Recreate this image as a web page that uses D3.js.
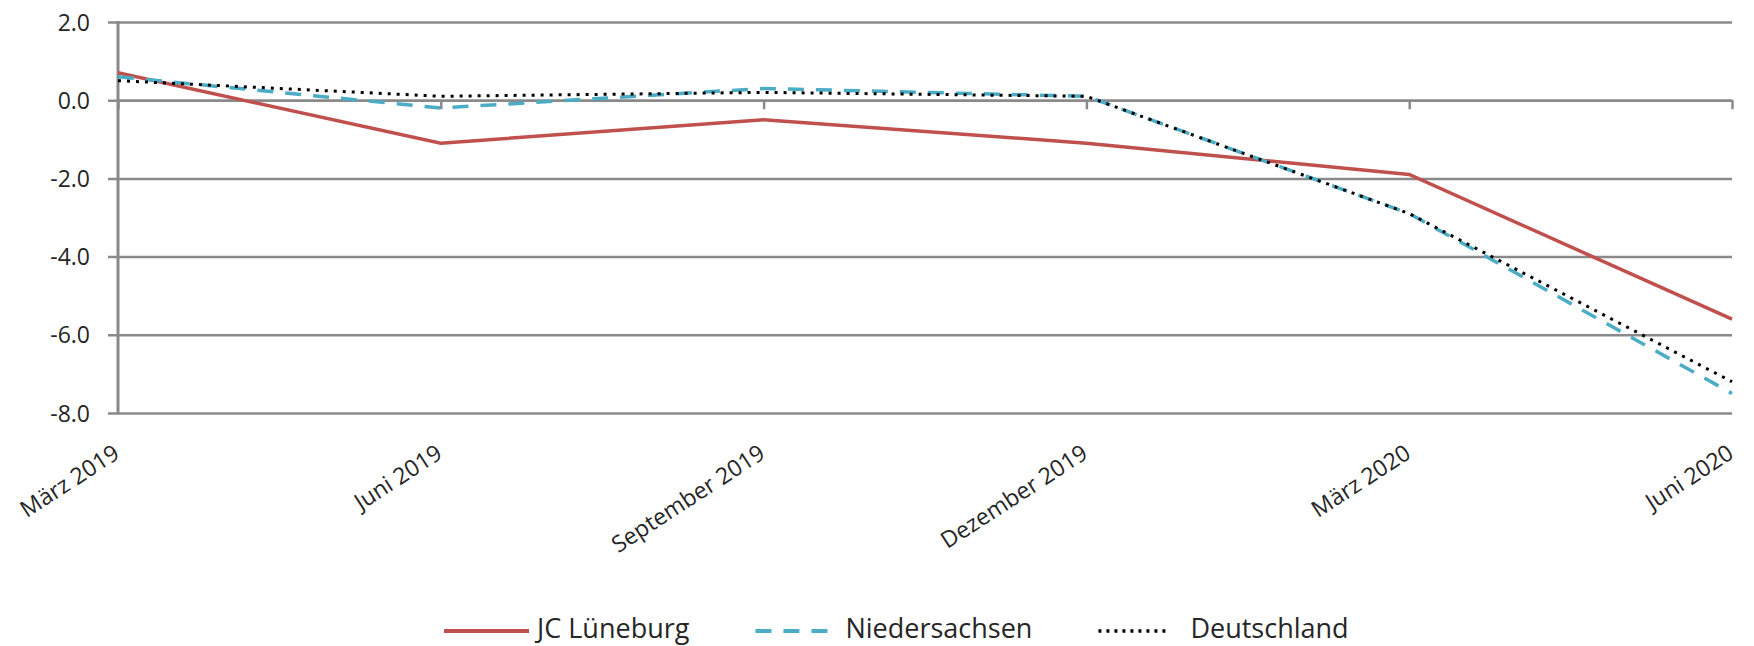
<!DOCTYPE html>
<html>
<head>
<meta charset="utf-8">
<script src="https://cdn.jsdelivr.net/npm/d3@7"></script>
<style>
  body { margin: 0; background: #fff; }
  text { font-family: "Open Sans", sans-serif; fill: #262626; }
</style>
</head>
<body>
<div id="chart"></div>
<script>
var w = 1754;
var h = 646;

// quarters on the x axis
var months = ["März 2019", "Juni 2019", "September 2019", "Dezember 2019", "März 2020", "Juni 2020"];
// change in percent
var lueneburg = [0.7, -1.1, -0.5, -1.1, -1.9, -5.6];
var niedersachsen = [0.6, -0.2, 0.3, 0.1, -2.9, -7.5];
var deutschland = [0.5, 0.1, 0.2, 0.1, -2.9, -7.2];
var yTicks = [-8, -6, -4, -2, 0, 2];
var seriesNames = ["JC Lüneburg", "Niedersachsen", "Deutschland"];

// plot area (note: "top" is reserved on window, so use own names)
var plotLeft = 118, plotRight = 1732, plotTop = 22, plotBottom = 413;
var gridColor = "#8a8a8a";

var svg = d3.select("#chart")
  .append("svg")
  .attr("width", w)
  .attr("height", h);

var x = d3.scalePoint()
  .domain(months)
  .range([plotLeft, plotRight]);

var y = d3.scaleLinear()
  .domain([-8, 2])
  .range([plotBottom, plotTop]);

// horizontal gridlines (incl. the small ticks left of the axis)
var grid = svg.append("g")
  .attr("transform", "translate(" + (plotLeft - 10) + ",0)")
  .call(d3.axisLeft(y).tickValues(yTicks).tickSize(-(plotRight - plotLeft + 10)).tickFormat(""));
grid.select(".domain").remove();
grid.selectAll("line").attr("stroke", gridColor).attr("stroke-width", 2.5);

// y labels
var yLab = svg.append("g")
  .attr("transform", "translate(" + (plotLeft - 28) + ",0)")
  .call(d3.axisLeft(y).tickValues(yTicks).tickSize(0).tickPadding(0)
    .tickFormat(function(d) { return d.toFixed(1); }));
yLab.select(".domain").remove();
yLab.selectAll("text")
  .style("font-size", "23px")
  .style("font-family", "'Open Sans', sans-serif")
  .attr("fill", "#262626")
  .attr("dy", "0.35em");

// x axis sits on the 0 line, ticks point down
var xAx = svg.append("g")
  .attr("transform", "translate(0," + y(0) + ")")
  .call(d3.axisBottom(x).tickSize(9).tickSizeOuter(0).tickFormat(""));
xAx.select(".domain").attr("stroke", gridColor).attr("stroke-width", 2.5);
xAx.selectAll("line").attr("stroke", gridColor).attr("stroke-width", 2.5);

// vertical axis line
svg.append("line")
  .attr("x1", plotLeft).attr("x2", plotLeft)
  .attr("y1", y(2) - 1).attr("y2", y(-8) + 1)
  .attr("stroke", gridColor)
  .attr("stroke-width", 3);

// rotated category labels at the bottom
svg.selectAll(".x-label")
  .data(months)
  .enter()
  .append("text")
  .attr("class", "x-label")
  .attr("text-anchor", "end")
  .attr("transform", function(d) {
    return "translate(" + (x(d) + 3) + "," + 457 + ") rotate(-33)";
  })
  .style("font-size", "23px")
  .text(function(d) { return d; });

var styles = [
  { color: "#c0504d", dash: null, width: 3.5 },
  { color: "#4bacc6", dash: "16,12", width: 3.5 },
  { color: "#000000", dash: "3,6", width: 3 }
];
var allSeries = [lueneburg, niedersachsen, deutschland];

var line = d3.line()
  .x(function(d, i) { return x(months[i]); })
  .y(function(d) { return y(d); });

allSeries.forEach(function(vals, i) {
  svg.append("path")
    .datum(vals)
    .attr("d", line)
    .attr("fill", "none")
    .attr("stroke", styles[i].color)
    .attr("stroke-width", styles[i].width)
    .attr("stroke-dasharray", styles[i].dash);
});

// legend
var lx = 444;
var ly = 631;
seriesNames.forEach(function(name, i) {
  var len = i == 0 ? 85 : (i == 1 ? 82 : 72);
  svg.append("line")
    .attr("x1", lx).attr("x2", lx + len)
    .attr("y1", ly).attr("y2", ly)
    .attr("stroke", styles[i].color)
    .attr("stroke-width", styles[i].width + 0.5)
    .attr("stroke-dasharray", styles[i].dash == "3,6" ? "3,5" : styles[i].dash);
  var t = svg.append("text")
    .attr("x", lx + len + (i == 2 ? 20 : 8))
    .attr("y", ly + 7)
    .style("font-size", "27px")
    .text(name);
  lx = lx + len + (i == 2 ? 20 : 8) + t.node().getComputedTextLength() + 66;
});
</script>
</body>
</html>
